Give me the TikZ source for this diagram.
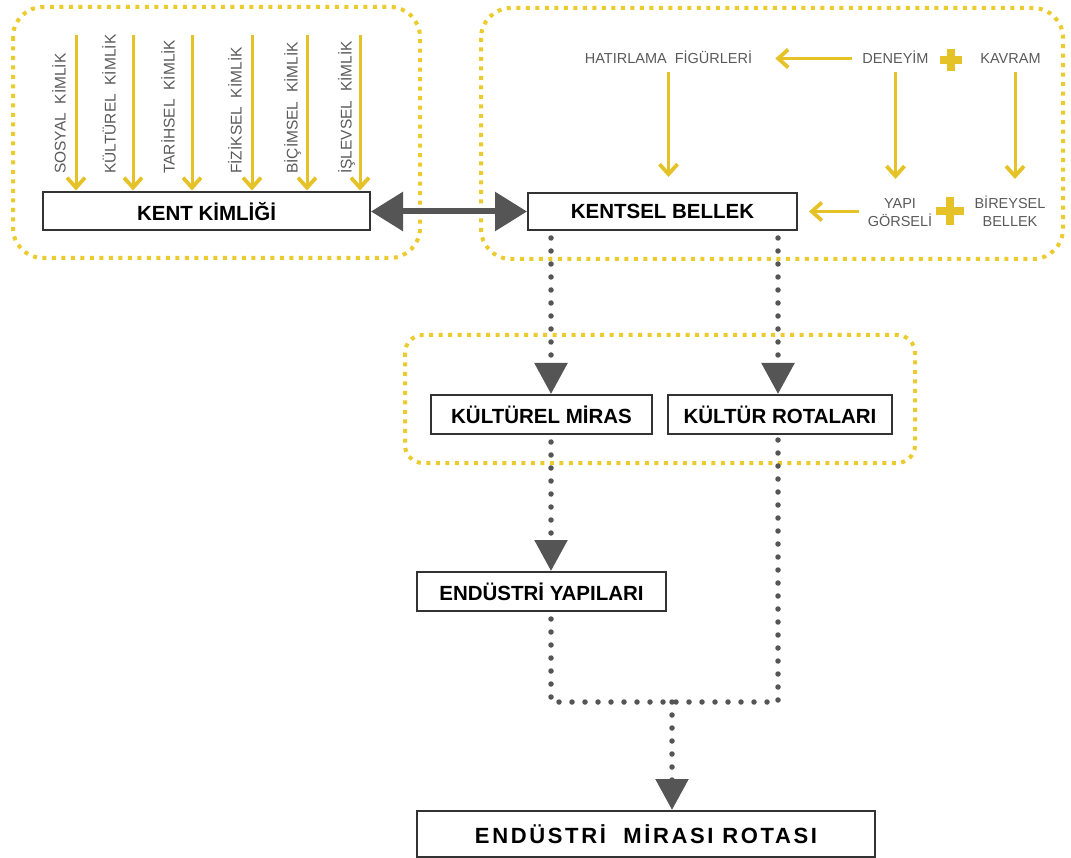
\documentclass[tikz,border=0pt]{standalone}
\usepackage{fontspec}
\setmainfont{Liberation Sans}
\usetikzlibrary{arrows.meta}

\definecolor{gold}{HTML}{E6C229}
\definecolor{framegold}{HTML}{EBCB2E}
\definecolor{ink}{HTML}{555555}
\definecolor{labelgray}{HTML}{5A5A5A}
\definecolor{boxline}{HTML}{333333}

\newcommand\fsz[2]{\fontsize{#1}{#2}\selectfont}

\begin{document}
\begin{tikzpicture}[x=1pt,y=-1pt,
  groupframe/.style={draw=framegold, line width=4pt, dash pattern=on 4pt off 5.5pt},
  box/.style={draw=boxline, line width=2pt, fill=white, inner sep=0pt,
              font=\bfseries\fsz{20.5}{24}, text=black},
  yarrow/.style={draw=gold, line width=3pt, -{Straight Barb[length=10pt,width=18pt,line width=3.8pt]}},
  vlabel/.style={text=labelgray, font=\fsz{15.5}{18}, inner sep=0pt, rotate=90, anchor=base west},
  rlabel/.style={text=labelgray, font=\fsz{14.5}{18}, inner sep=0pt, text height=10.5pt, text depth=0pt},
  rlabeltwo/.style={text=labelgray, font=\fsz{14.5}{18}, inner sep=0pt, align=center},
  plusline/.style={draw=gold, line width=8pt},
  dotline/.style={draw=ink, line width=5.5pt, line cap=round, dash pattern=on 0pt off 13pt},
  dotarrow/.style={dotline, -{Triangle[length=31pt,width=32pt]}},
  bigarrow/.style={draw=ink, line width=6pt,
                   {Triangle[length=32pt,width=38pt]}-{Triangle[length=32pt,width=38pt]}}
]
\useasboundingbox (0,0) rectangle (1071,858);

% dotted group frames
\draw[groupframe, rounded corners=30pt] (13,7) rectangle (420,258);
\draw[groupframe, rounded corners=30pt] (481,8) rectangle (1063,259);
\draw[groupframe, rounded corners=18pt] (405,335) rectangle (915,463);

% column positions of the dotted flow
\coordinate (colL) at (551,0);
\coordinate (colR) at (778,0);
\coordinate (jL) at (551,702);
\coordinate (jR) at (778,702);
\coordinate (jM) at (672,702);

% main boxes
\node[box, minimum width=327pt, minimum height=38pt] (kent) at (206.5,211.5) {KENT KİMLİĞİ};
\node[box, minimum width=269pt, minimum height=37pt] (kentsel) at (662.5,211.5) {KENTSEL BELLEK};
\node[box, minimum width=221pt, minimum height=39pt] (miras) at (541.5,414.5) {KÜLTÜREL MİRAS};
\node[box, minimum width=224pt, minimum height=39pt] (rotalar) at (780,414.5) {KÜLTÜR ROTALARI};
\node[box, minimum width=249pt, minimum height=39pt] (yapilar) at (541.5,591.5) {ENDÜSTRİ YAPILARI};
\node[box, minimum width=458pt, minimum height=46pt,
      font=\bfseries\fsz{22}{26}\addfontfeature{LetterSpace=12}] (rota) at (646,834) {ENDÜSTRİ\ \ MİRASI ROTASI};

% identity components feeding the city identity
\foreach \ax/\bx/\name [count=\i] in {76/65.5/SOSYAL, 133/115.5/KÜLTÜREL, 192/174.5/TARİHSEL,
                                       252/241.5/FİZİKSEL, 307/297.5/BİÇİMSEL, 360/351.5/İŞLEVSEL} {
  \coordinate (src\i) at (\ax,35);
  \draw[yarrow, shorten >=1pt] (src\i) -- (src\i |- kent.north);
  \node[vlabel] (lab\i) at (\bx,174) {\name\ \ KİMLİK};
}

% urban memory inputs
\node[rlabel] (hat) at (668.5,58.5) {HATIRLAMA\ \ FİGÜRLERİ};
\node[rlabel] (den) at (895.5,58.5) {DENEYİM};
\node[rlabel] (kav) at (1010.5,58.5) {KAVRAM};
\node[rlabeltwo] (yapi) at (900,211.5) {\vphantom{İ}YAPI\\GÖRSELİ};
\node[rlabeltwo] (bir) at (1010,211.5) {BİREYSEL\\BELLEK};

\coordinate (plusA) at (951,60);
\draw[plusline] ([xshift=-11pt]plusA) -- ([xshift=11pt]plusA)
                ([yshift=-11pt]plusA) -- ([yshift=11pt]plusA);
\coordinate (plusB) at (950,211);
\draw[plusline] ([xshift=-14pt]plusB) -- ([xshift=14pt]plusB)
                ([yshift=-14pt]plusB) -- ([yshift=14pt]plusB);

\draw[yarrow, shorten <=10pt, shorten >=23pt] (den.west) -- (hat.east);
\draw[yarrow, shorten <=8pt, shorten >=15pt] (hat.south) -- (hat.south |- kentsel.north);
\draw[yarrow, shorten <=8pt, shorten >=17pt] (den.south) -- (den.south |- yapi.north);
\draw[yarrow, shorten <=8pt, shorten >=17pt] ([xshift=4.5pt]kav.south) -- ([xshift=4.5pt]kav.south |- bir.north);
\draw[yarrow, shorten <=9pt, shorten >=11pt] (yapi.west) -- (kentsel.east);

% identity <-> memory
\draw[bigarrow] (kent.east) -- (kent.east -| kentsel.west);

% dotted flow toward the route
\draw[dotarrow, shorten <=7pt] (kentsel.south -| colL) -- (miras.north -| colL);
\draw[dotarrow, shorten <=7pt] (kentsel.south -| colR) -- (rotalar.north -| colR);
\draw[dotarrow, shorten <=7pt] (miras.south -| colL) -- (yapilar.north -| colL);
\draw[dotline, shorten <=7pt] (yapilar.south -| colL) -- (jL) -- (jR) -- (rotalar.south -| colR);
\draw[dotarrow] (jM) -- (rota.north -| jM);
\end{tikzpicture}
\end{document}
